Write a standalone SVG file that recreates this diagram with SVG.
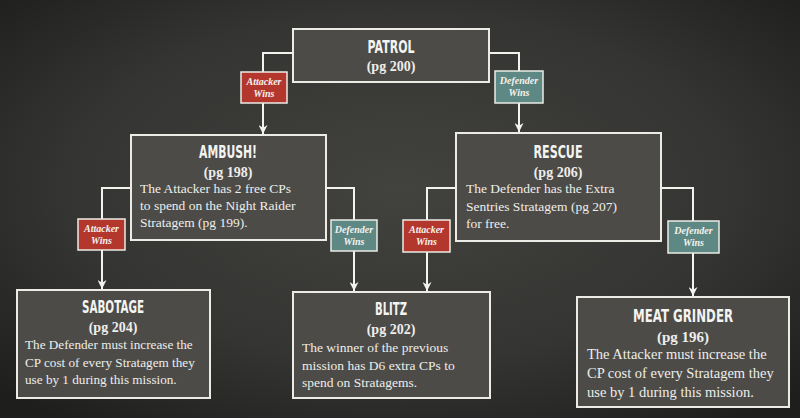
<svg xmlns="http://www.w3.org/2000/svg" width="800" height="418" viewBox="0 0 800 418">
<defs>
<radialGradient id="bg" cx="50%" cy="45%" r="70%">
<stop offset="0" stop-color="#42423f"/>
<stop offset="0.6" stop-color="#343432"/>
<stop offset="1" stop-color="#1e1e1d"/>
</radialGradient>
<marker id="arr" viewBox="0 0 10 10" refX="10" refY="5" markerWidth="9" markerHeight="9" orient="auto" markerUnits="userSpaceOnUse">
<path d="M0,0 L10,5 L0,10 L3,5 z" fill="#f2f2ee"/>
</marker>
</defs>
<style>
.box{fill:#4c4b48;stroke:#ecebe6;stroke-width:2}
.title{font-family:"DejaVu Sans","Liberation Sans",sans-serif;font-weight:bold;font-size:17px;fill:#f4f4f0;text-anchor:middle}
.pg{font-family:"Liberation Serif",serif;font-weight:bold;font-size:14px;fill:#eeeeea;text-anchor:middle}
.body{font-family:"Liberation Serif",serif;font-size:13.5px;fill:#eeeeea}
.conn{fill:none;stroke:#f2f2ee;stroke-width:2}
.att{fill:#b3372c;stroke:#ecebe6;stroke-width:1.5}
.def{fill:#5e8884;stroke:#ecebe6;stroke-width:1.5}
.lbl{font-family:"Liberation Serif",serif;font-style:italic;font-weight:bold;font-size:10px;fill:#f6f2ec;text-anchor:middle}
</style>
<rect width="800" height="418" fill="url(#bg)"/>
<g id="connectors">
<path class="conn" d="M293,53 H263 V134" marker-end="url(#arr)"/>
<path class="conn" d="M489,53 H519 V132" marker-end="url(#arr)"/>
<path class="conn" d="M131,188 H102 V289" marker-end="url(#arr)"/>
<path class="conn" d="M326,188 H354 V291" marker-end="url(#arr)"/>
<path class="conn" d="M456,188 H427 V291" marker-end="url(#arr)"/>
<path class="conn" d="M661,188 H693 V296" marker-end="url(#arr)"/>
</g>
<g id="labels">
<g id="lbl-patrol-att"><rect class="att" x="241" y="72" width="46" height="31"/><text class="lbl" x="264" y="85">Attacker</text><text class="lbl" x="264" y="97">Wins</text></g>
<g id="lbl-patrol-def"><rect class="def" x="495" y="71" width="48" height="32"/><text class="lbl" x="519" y="84">Defender</text><text class="lbl" x="519" y="96">Wins</text></g>
<g id="lbl-ambush-att"><rect class="att" x="78" y="219" width="47" height="31"/><text class="lbl" x="101.5" y="232">Attacker</text><text class="lbl" x="101.5" y="244">Wins</text></g>
<g id="lbl-ambush-def"><rect class="def" x="331" y="220" width="46" height="31"/><text class="lbl" x="354" y="233">Defender</text><text class="lbl" x="354" y="245">Wins</text></g>
<g id="lbl-rescue-att"><rect class="att" x="403" y="220" width="47" height="32"/><text class="lbl" x="426.5" y="233">Attacker</text><text class="lbl" x="426.5" y="245">Wins</text></g>
<g id="lbl-rescue-def"><rect class="def" x="668" y="221" width="51" height="32"/><text class="lbl" x="693.5" y="234">Defender</text><text class="lbl" x="693.5" y="246">Wins</text></g>
</g>
<g id="patrol">
<rect class="box" x="293" y="29" width="196" height="53"/>
<text class="title" x="391" y="53" textLength="47" lengthAdjust="spacingAndGlyphs">PATROL</text>
<text class="pg" x="391" y="71">(pg 200)</text>
</g>
<g id="ambush">
<rect class="box" x="131" y="135" width="195" height="105"/>
<text class="title" x="228" y="158" textLength="58" lengthAdjust="spacingAndGlyphs">AMBUSH!</text>
<text class="pg" x="228" y="177">(pg 198)</text>
<text class="body" x="140" y="193">The Attacker has 2 free CPs</text>
<text class="body" x="140" y="210">to spend on the Night Raider</text>
<text class="body" x="140" y="227">Stratagem (pg 199).</text>
</g>
<g id="rescue">
<rect class="box" x="456" y="133" width="205" height="108"/>
<text class="title" x="558" y="158" textLength="49" lengthAdjust="spacingAndGlyphs">RESCUE</text>
<text class="pg" x="558" y="177">(pg 206)</text>
<text class="body" x="466" y="193">The Defender has the Extra</text>
<text class="body" x="466" y="211">Sentries Stratagem (pg 207)</text>
<text class="body" x="466" y="228">for free.</text>
</g>
<g id="sabotage">
<rect class="box" x="17" y="290" width="193" height="108"/>
<text class="title" x="113" y="313" textLength="62" lengthAdjust="spacingAndGlyphs">SABOTAGE</text>
<text class="pg" x="113" y="332">(pg 204)</text>
<text class="body" x="25" y="349" style="font-size:13.2px">The Defender must increase the</text>
<text class="body" x="25" y="367" style="font-size:13.2px">CP cost of every Stratagem they</text>
<text class="body" x="25" y="384" style="font-size:13.2px">use by 1 during this mission.</text>
</g>
<g id="blitz">
<rect class="box" x="293" y="292" width="197" height="106"/>
<text class="title" x="391" y="315" textLength="32" lengthAdjust="spacingAndGlyphs">BLITZ</text>
<text class="pg" x="391" y="334">(pg 202)</text>
<text class="body" x="302" y="352">The winner of the previous</text>
<text class="body" x="302" y="370">mission has D6 extra CPs to</text>
<text class="body" x="302" y="387">spend on Stratagems.</text>
</g>
<g id="meat-grinder">
<rect class="box" x="577" y="297" width="212" height="110"/>
<text class="title" x="683" y="322" style="font-size:18px" textLength="100" lengthAdjust="spacingAndGlyphs">MEAT GRINDER</text>
<text class="pg" x="683" y="342" style="font-size:15px">(pg 196)</text>
<text class="body" x="587" y="359" style="font-size:14.5px">The Attacker must increase the</text>
<text class="body" x="587" y="378" style="font-size:14.5px">CP cost of every Stratagem they</text>
<text class="body" x="587" y="397" style="font-size:14.5px">use by 1 during this mission.</text>
</g>
</svg>
